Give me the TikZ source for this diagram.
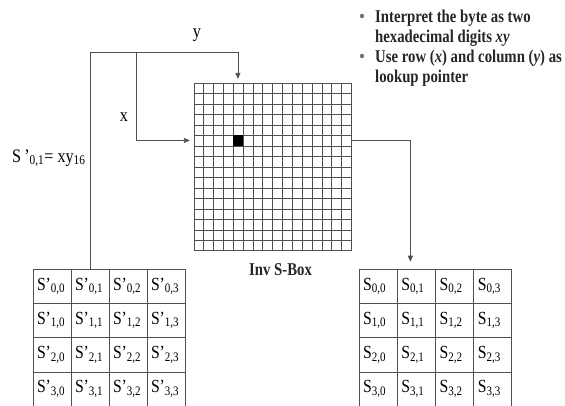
\documentclass[tikz,border=0pt]{standalone}
\usepackage{fontspec}
\setmainfont{Liberation Serif}[FakeStretch=0.85]
\newfontfamily\notefont{Liberation Serif}[FakeStretch=0.82]
\usepackage{tikz}
\usetikzlibrary{arrows.meta,positioning,calc}
\definecolor{linegray}{RGB}{80,80,80}
\definecolor{bulletblue}{RGB}{105,120,145}

\begin{document}
\begin{tikzpicture}[x=1pt, y=-1pt, >={Triangle[length=6pt,width=5pt]},
  cell/.style={draw=linegray, line width=0.8pt, minimum width=38pt, minimum height=34.3pt, inner xsep=4pt, text width=30pt, align=left, font=\fontsize{18.5}{19}\selectfont},
  gridln/.style={draw=linegray, line width=0.6pt},
  link/.style={draw=linegray, line width=0.8pt},
  lbl/.style={font=\fontsize{19}{20}\selectfont, inner sep=0pt},
  note/.style={font=\notefont\bfseries\fontsize{18}{20}\selectfont, align=left, inner sep=0pt, text=black!85},
  dot/.style={circle, fill=bulletblue, minimum size=4.5pt, inner sep=0pt}]
\useasboundingbox (0,0) rectangle (565,405);
\clip (0,0) rectangle (565,405);

% inverse s-box, 16 x 16
\node[draw=linegray, line width=0.8pt, minimum width=156.7pt, minimum height=167.4pt, inner sep=0pt] (sbox) at (272.6,167) {};
\foreach \i in {1,...,15} {
  \draw[gridln] ($(sbox.north west)!\i/16!(sbox.north east)$) -- ($(sbox.south west)!\i/16!(sbox.south east)$);
  \draw[gridln] ($(sbox.north west)!\i/16!(sbox.south west)$) -- ($(sbox.north east)!\i/16!(sbox.south east)$);
}
\node[fill=black, minimum width=9.8pt, minimum height=10.5pt, inner sep=0pt] (hit) at ($(sbox.north west)+(4.5*9.79,5.5*10.46)$) {};
\node[note, below=12pt of sbox, xshift=8pt] (sboxlbl) {Inv S-Box};

% state before / after
\foreach \r in {0,...,3}
  \foreach \c in {0,...,3} {
    \node[cell] (l\r\c) at (52+38*\c, 286.2+34.3*\r) {S'\textsubscript{\r,\c}};
    \node[cell] (r\r\c) at (378.2+38.2*\c, 286.2+34.3*\r) {S\textsubscript{\r,\c}};
  }

% lookup
\coordinate (ybar) at (0,52);
\coordinate (xfork) at (136,52);
\draw[link,->, shorten >=4pt] (l01.north) |- (hit |- ybar) -- (hit |- sbox.north);
\draw[link,->, shorten >=4pt] (xfork) |- (sbox.west |- hit);
\draw[link,->, shorten >=7pt] (sbox.east |- hit) -| ([xshift=-6pt]r01.north);

\node[lbl] (ylbl) at (197,35) {y};
\node[lbl] (xlbl) at (124,117) {x};
\node[lbl, anchor=base west] (eqlbl) at (12,162) {S\,'\textsubscript{0,1}= xy\textsubscript{16}};

% notes
\node[dot] (dot1) at (362,16) {};
\node[note, anchor=base west] (item1) at (375,42) {Interpret the byte as two\\hexadecimal digits \textit{xy}};
\node[dot] (dot2) at (362,56) {};
\node[note, anchor=base west] (item2) at (375,82) {Use row (\textit{x}) and column (\textit{y}) as\\lookup pointer};
\end{tikzpicture}
\end{document}
